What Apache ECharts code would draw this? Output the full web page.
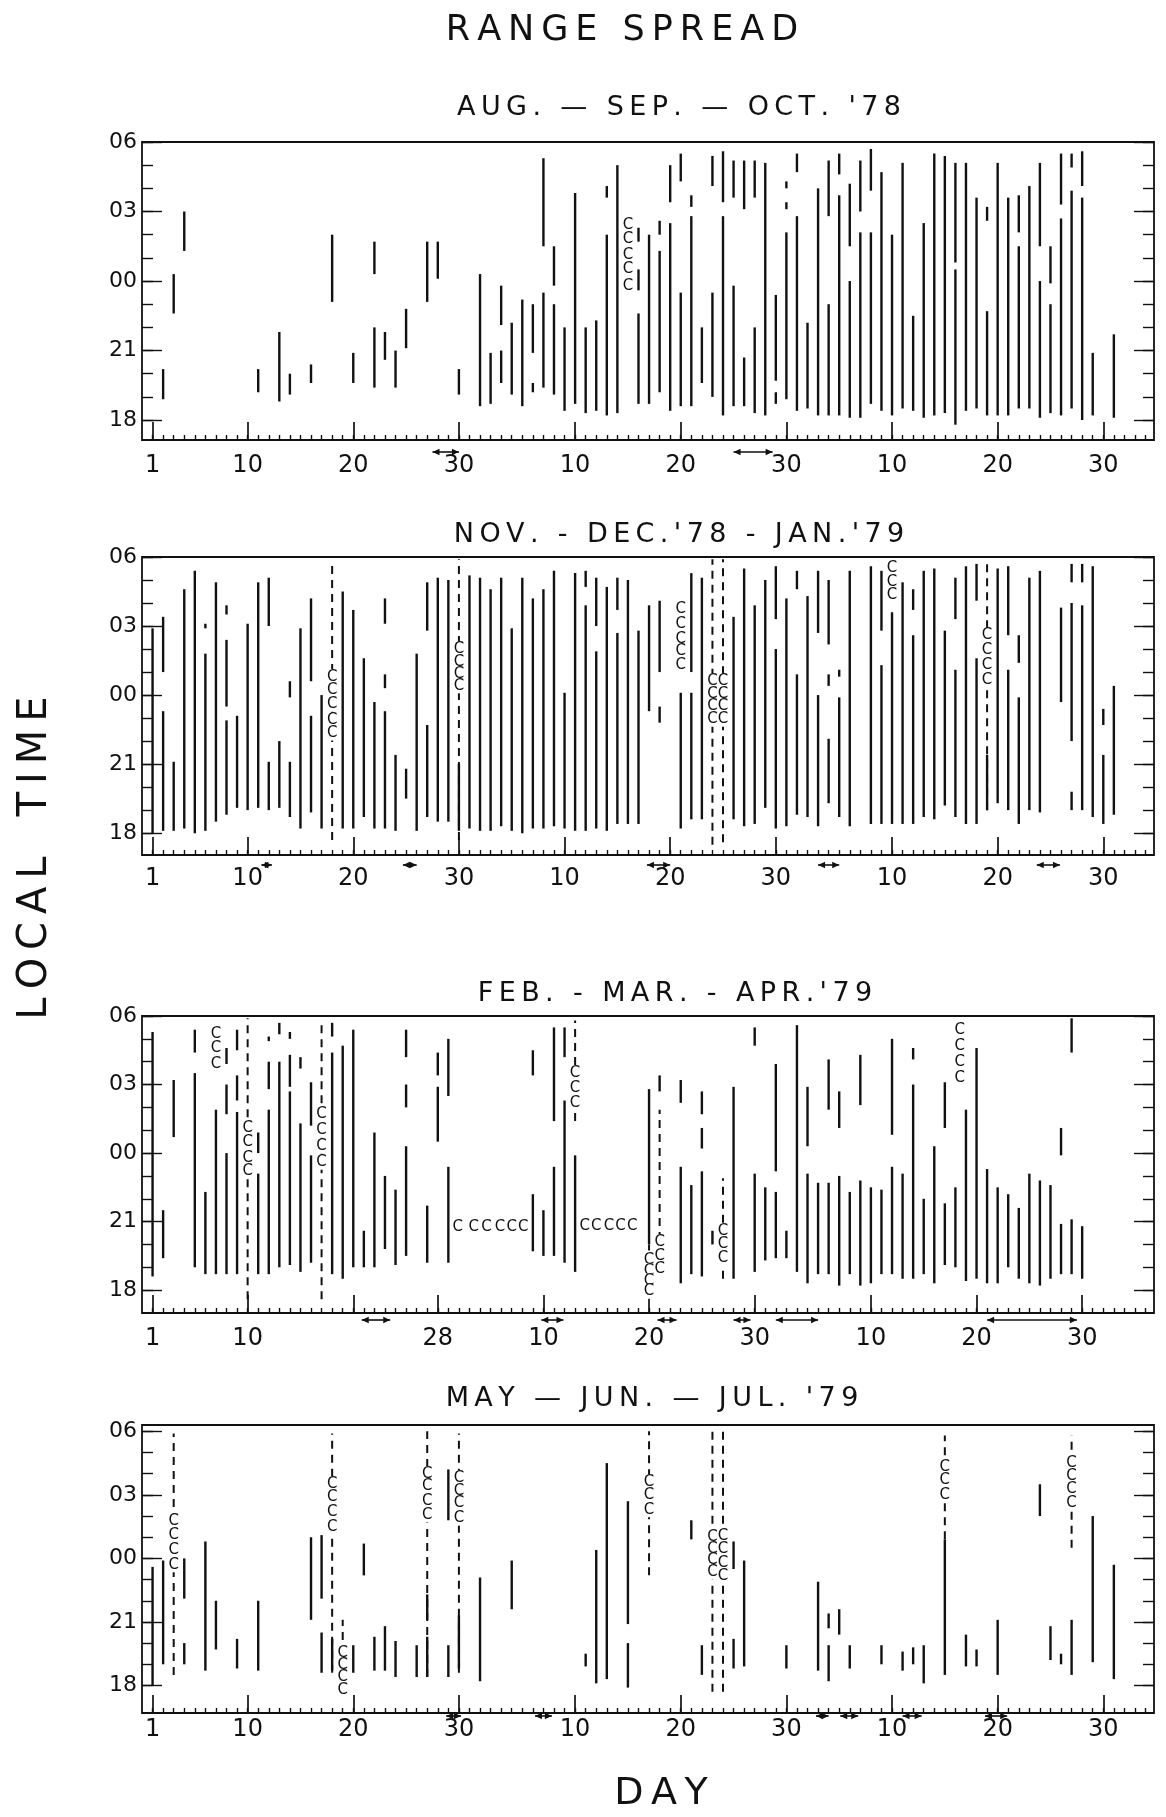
<!DOCTYPE html>
<html>
<head>
<meta charset="utf-8">
<title>Range spread</title>
<script src="https://cdn.jsdelivr.net/npm/echarts@6.0.0/dist/echarts.min.js"></script>
<style>
  html, body { margin: 0; padding: 0; background: #fff; }
  #chart { width: 1166px; height: 1817px; }
</style>
</head>
<body>
<div id="chart"></div>
<script>
// day = running day number from the 1st of the first month of the panel
// times = hours after 18 LT (0 -> 18, 6 -> 00, 12 -> 06)

const hourLabels = ['18', '21', '00', '03', '06'];
const hourLabelPos = [0, 3, 6, 9, 12];

const titles = ["AUG. — SEP. — OCT. '78", "NOV. - DEC.'78 - JAN.'79", "FEB. - MAR. - APR.'79", "MAY — JUN. — JUL. '79"];

const dayLabelPos1 = [1, 10, 20, 30, 41, 51, 61, 71, 81, 91];
const dayLabelPos2 = [1, 10, 20, 30, 40, 50, 60, 71, 81, 91];
const dayLabelPos3 = [1, 10, 28, 38, 48, 58, 69, 79, 89];
const dayLabelPos4 = [1, 10, 20, 30, 41, 51, 61, 71, 81, 91];
const dayLabelTxt1 = ['1', '10', '20', '30', '10', '20', '30', '10', '20', '30'];
const dayLabelTxt2 = ['1', '10', '20', '30', '10', '20', '30', '10', '20', '30'];
const dayLabelTxt3 = ['1', '10', '28', '10', '20', '30', '10', '20', '30'];
const dayLabelTxt4 = ['1', '10', '20', '30', '10', '20', '30', '10', '20', '30'];
const bigTick3 = [1, 10, 20, 28, 38, 48, 58, 69, 79, 89];

// solid range-spread bars [day, from, to]
const seg1 = [
  [2,0.9,2.2],[3,4.6,6.3],[4,7.3,9.0],[11,1.2,2.2],[13,0.8,3.8],[14,1.1,2.0],[16,1.6,2.4],[18,5.1,8.0],[20,1.6,2.9],
  [22,6.3,7.7],[22,1.4,4.0],[23,2.6,3.8],[24,1.4,3.0],[25,3.1,4.8],[27,5.1,7.7],[28,6.1,7.7],[30,1.1,2.2],
  [32,0.6,6.3],[33,0.7,2.9],[34,4.1,5.8],[34,1.6,3.0],[35,1.1,4.2],[36,0.6,5.2],[37,2.9,5.0],[37,1.2,1.6],
  [38,7.5,11.3],[38,1.4,5.5],[39,5.8,7.5],[39,1.1,5.0],[40,0.4,4.0],[41,0.7,9.8],[42,0.3,4.0],[43,0.4,4.3],
  [44,9.6,10.1],[44,0.2,8.0],[45,0.3,11.0],[47,7.7,8.3],[47,5.6,6.5],[47,0.7,4.6],[48,0.7,8.0],[49,8.0,8.6],
  [49,1.2,7.3],[50,9.4,11.0],[50,0.4,8.5],[51,10.3,11.5],[51,0.6,5.5],[52,9.2,9.7],[52,0.6,8.8],[53,1.6,4.0],
  [54,10.1,11.4],[54,1.0,5.5],[55,9.4,11.6],[55,0.2,8.8],[56,9.6,11.2],[56,0.6,5.8],[57,9.1,11.2],[57,0.6,2.7],
  [58,9.6,11.2],[58,0.3,4.0],[59,0.2,11.1],[60,1.7,5.4],[60,0.7,1.2],[61,10.0,10.3],[61,9.1,9.4],[61,0.9,8.1],
  [62,10.7,11.5],[62,0.4,8.8],[63,0.5,4.2],[64,0.2,10.0],[65,8.8,11.2],[65,0.2,5.0],[66,10.6,11.5],[66,0.2,9.7],
  [67,7.5,10.2],[67,0.1,6.0],[68,9.0,11.2],[68,0.1,8.1],[69,9.9,11.7],[69,0.7,8.1],[70,0.4,10.7],[71,0.2,8.0],
  [72,0.5,11.1],[73,0.4,4.5],[74,0.1,8.5],[75,0.2,11.5],[76,0.3,11.4],[77,6.8,11.1],[77,-0.2,6.5],[78,0.4,11.1],
  [79,0.5,9.6],[80,8.6,9.2],[80,0.2,4.7],[81,0.2,11.1],[82,0.2,9.6],[83,8.1,9.7],[83,0.5,7.5],[84,0.5,10.1],
  [85,7.5,11.1],[85,0.1,6.0],[86,5.9,7.5],[86,0.3,5.0],[87,9.3,11.5],[87,0.2,8.7],[88,10.9,11.5],[88,0.5,9.9],
  [89,10.1,11.6],[89,0.0,9.6],[90,0.2,2.9],[92,0.1,3.7]
];
const seg2 = [
  [1,0,8.9],[2,7.0,9.4],[2,0.1,5.3],[3,0.1,3.1],[4,0.2,10.6],[5,0,11.4],[6,8.9,9.1],[6,0.1,7.8],[7,0.5,10.9],
  [8,9.5,9.9],[8,5.5,8.4],[8,0.8,4.9],[9,1.1,5.1],[10,1.0,9.1],[11,1.1,10.9],[12,9.0,11.1],[12,1.0,3.1],
  [13,1.1,4.0],[14,5.9,6.6],[14,0.7,3.1],[15,0.2,8.9],[16,6.6,10.2],[16,0.9,5.1],[17,0.2,6.0],[19,0.2,10.5],
  [20,0.2,9.7],[21,0.7,7.6],[22,0.2,5.7],[23,9.1,10.2],[23,6.3,6.9],[23,0.2,5.3],[24,0.1,3.4],[25,1.5,2.8],
  [26,0.1,7.8],[27,8.8,10.9],[27,0.7,4.7],[28,0.5,11.1],[29,0.5,11.0],[30,0.1,3.0],[31,0.2,11.2],
  [32,0.1,11.1],[33,0.1,10.6],[34,0.3,11.1],[35,0.1,8.9],[36,0.0,11.1],[37,0.2,10.2],[38,0.2,10.6],[39,0.3,11.4],
  [40,0.2,6.1],[41,0.1,11.3],[42,10.7,11.4],[42,0.1,9.9],[43,9.0,11.1],[43,0.2,7.9],[44,0.1,10.7],[45,9.7,11.1],
  [45,0.4,8.7],[46,0.4,11.0],[47,0.4,8.8],[48,5.3,9.9],[49,7.0,10.1],[49,4.8,5.5],[51,0.2,6.1],[52,7.0,11.3],
  [52,0.6,6.1],[53,0.6,11.1],[56,0.6,9.4],[57,0.3,11.5],[58,0.4,9.9],[59,1.1,11.0],[60,9.3,11.6],[60,0.2,8.0],
  [61,0.3,10.2],[62,10.6,11.4],[62,0.8,6.9],[63,0.7,10.3],[64,8.7,11.4],[64,0.3,6.0],[65,8.2,11.0],[65,6.4,6.9],
  [65,1.3,4.1],[66,6.8,7.1],[66,0.7,5.9],[67,0.3,11.4],[69,0.4,11.6],[70,8.8,11.4],[70,0.4,7.3],[71,0.4,9.6],
  [72,0.4,10.9],[73,9.7,10.6],[73,0.4,8.6],[74,0.7,11.4],[75,0.6,11.5],[76,1.2,8.8],[77,9.3,11.1],[77,0.7,7.1],
  [78,0.4,11.6],[79,10.1,11.7],[79,0.4,7.6],[80,1.0,3.4],[81,1.3,11.5],[82,8.6,11.6],[82,1.0,7.1],[83,7.4,8.6],
  [83,0.4,5.9],[84,1.0,11.1],[85,0.9,11.4],[87,5.7,9.8],[88,10.9,11.7],[88,4.0,10.0],[88,1.0,1.8],[89,10.9,11.7],
  [89,1.0,9.9],[90,0.7,11.6],[91,4.7,5.4],[91,0.4,3.4],[92,0.8,6.4]
];
const seg3 = [
  [1,0.6,11.3],[2,1.4,3.5],[3,6.7,9.2],[5,10.4,11.4],[5,1.0,9.5],[6,0.7,4.3],[7,0.7,7.9],[8,9.9,10.6],[8,7.7,9.0],
  [8,0.7,6.0],[9,10.5,11.4],[9,8.3,9.4],[9,0.7,7.8],[11,6.0,6.9],[11,0.7,5.1],[12,10.9,11.1],[12,8.8,10.0],
  [12,0.7,7.9],[13,11.2,11.7],[13,1.0,10.0],[14,11.0,11.3],[14,8.9,10.3],[14,1.1,8.7],[15,9.7,10.2],[15,0.8,7.3],
  [16,7.2,9.1],[16,1.2,5.9],[18,11.1,11.7],[18,0.7,10.4],[19,0.5,10.7],[20,1.0,11.4],[21,1.0,2.6],[22,1.0,6.9],
  [23,1.8,5.0],[24,1.1,4.4],[25,10.2,11.4],[25,8.0,9.0],[25,1.5,6.3],[27,1.2,3.7],[28,9.4,10.4],[28,6.5,8.9],
  [29,8.5,11.0],[29,1.2,5.4],[37,9.4,10.5],[37,1.7,4.2],[38,1.5,3.5],[39,7.4,11.5],[39,1.5,5.4],[40,10.2,11.5],
  [40,1.2,8.3],[41,0.8,5.9],[48,2.0,8.8],[49,8.7,9.4],[51,8.2,9.2],[51,0.3,5.4],[52,0.7,4.6],[53,7.7,8.7],
  [53,6.2,7.1],[53,0.6,5.2],[54,2.0,2.6],[56,0.5,8.9],[58,10.7,11.5],[58,0.8,5.1],[59,1.3,4.5],[60,5.2,9.9],
  [60,1.4,4.3],[61,1.4,2.6],[62,0.8,11.6],[63,6.3,8.9],[63,0.3,5.1],[64,0.7,4.7],[65,7.9,10.1],[65,0.7,4.7],
  [66,7.1,8.7],[66,0.2,5.0],[67,0.7,4.3],[68,8.1,10.3],[68,0.2,4.8],[69,0.3,4.5],[70,0.7,4.4],[71,6.8,11.0],
  [71,0.7,5.4],[72,0.5,5.1],[73,10.1,10.6],[73,0.5,9.0],[74,0.7,4.0],[75,0.3,6.3],[76,7.1,9.1],[76,1.1,3.8],
  [77,1.0,4.5],[78,0.4,7.9],[79,0.5,10.6],[80,0.3,5.3],[81,0.3,4.5],[82,1.0,4.2],[83,0.5,3.6],[84,0.3,5.1],
  [85,0.2,4.8],[86,0.5,4.6],[87,5.9,7.1],[87,0.7,2.9],[88,10.4,11.9],[88,0.7,3.1],[89,0.5,2.8]
];
const seg4 = [
  [1,0,5.6],[2,1.0,5.9],[4,4.1,6.0],[4,1.0,2.0],[6,0.7,6.8],[7,1.7,4.0],[9,0.8,2.2],[11,0.7,4.0],[16,3.1,7.0],
  [17,4.1,7.1],[17,0.6,2.5],[18,0.7,2.2],[20,0.6,1.9],[21,5.2,6.7],[22,0.7,2.3],[23,0.7,2.8],[24,0.4,2.1],
  [26,0.4,1.9],[27,3.1,4.3],[27,0.4,2.3],[29,7.8,10.2],[29,0.4,1.9],[30,0.8,3.3],[32,0.2,5.1],[35,3.6,5.9],
  [42,0.9,1.5],[43,0.1,6.4],[44,0.3,10.5],[46,2.9,8.7],[46,-0.1,2.0],[52,6.9,7.8],[53,0.5,1.9],[56,5.5,6.8],
  [56,0.8,2.2],[57,0.9,5.9],[61,0.8,1.9],[64,0.7,4.9],[65,2.7,3.4],[65,0.2,1.9],[66,2.4,3.6],[67,0.8,1.9],
  [70,1.0,1.9],[72,0.7,1.6],[73,1.0,1.8],[74,0.1,1.9],[76,0.5,6.9],[78,0.9,2.4],[79,0.9,1.7],[81,0.5,3.1],
  [85,8.0,9.5],[86,1.2,2.8],[87,1.0,1.5],[88,0.5,3.1],[90,1.1,8.0],[92,0.3,5.7]
];

// dashed bars [day, from, to]
const dash1 = [];
const dash2 = [[18,-0.3,11.7],[30,-0.3,11.9],[54,-0.5,11.9],[55,-0.4,11.9],[80,1.0,11.8]];
const dash3 = [[10,-0.4,11.9],[17,-0.4,11.8],[41,7.4,11.8],[48,-0.1,2.0],[49,2.2,7.9],[55,0.5,4.9]];
const dash4 = [[3,0.5,11.9],[18,0.6,11.9],[19,-0.5,3.1],[27,0.4,12.0],[30,0.6,11.9],[48,5.2,12.0],
  [54,-0.3,12.0],[55,-0.3,12.0],[76,6.9,11.8],[88,6.5,11.8]];

// "c" marks [day, time]
const cMark1 = [[46,8.4],[46,7.8],[46,7.1],[46,6.5],[46,5.8]];
const cMark2 = [[18,6.8],[18,6.2],[18,5.6],[18,4.9],[18,4.35],[30,8.0],[30,7.45],[30,6.9],[30,6.4],
  [51,9.75],[51,9.1],[51,8.45],[51,7.9],[51,7.3],[54,6.6],[54,6.05],[54,5.5],[54,4.95],[55,6.6],[55,6.05],
  [55,5.5],[55,4.95],[71,11.5],[71,10.9],[71,10.35],[80,8.6],[80,7.95],[80,7.3],[80,6.65]];
const cMark3 = [[7,11.2],[7,10.6],[7,9.9],[10,7.1],[10,6.5],[10,5.8],[10,5.2],[17,7.7],[17,7.0],[17,6.3],[17,5.6],
  [29.9,2.75],[31.4,2.75],[32.6,2.75],[33.9,2.75],[35.0,2.75],[36.1,2.75],[41,9.5],[41,8.85],[41,8.2],
  [41.9,2.8],[43.0,2.8],[44.2,2.8],[45.3,2.8],[46.4,2.8],[48,1.3],[48,0.85],[48,0.4],[48,-0.05],
  [49,2.1],[49,1.5],[49,0.9],[55,2.6],[55,2.0],[55,1.4],[77.4,11.4],[77.4,10.7],[77.4,10.0],[77.4,9.3]];
const cMark4 = [[3,7.75],[3,7.1],[3,6.4],[3,5.7],[18,9.5],[18,8.9],[18,8.2],[18,7.5],[19,1.55],[19,0.95],
  [19,0.4],[19,-0.2],[27,10.0],[27,9.4],[27,8.7],[27,8.05],[30,9.8],[30,9.2],[30,8.6],[30,7.9],[48,9.6],
  [48,9.0],[48,8.3],[54,7.0],[54,6.45],[54,5.9],[54,5.35],[55,7.05],[55,6.45],[55,5.8],[55,5.15],
  [76,10.3],[76,9.7],[76,9.0],[88,10.5],[88,9.9],[88,9.25],[88,8.6]];

// double arrows under the axis [from day, to day]
const arrows1 = [[27.5,30],[56,59.7]];
const arrows2 = [[11.3,12.3],[24.7,26],[47.8,50],[64,66],[84.7,86.9]];
const arrows3 = [[20.8,23.5],[37.8,39.9],[48.8,50.6],[56,57.6],[60,64],[80,88.5]];
const arrows4 = [[28.8,30.2],[37.2,38.8],[63.8,65],[66.1,67.8],[72,73.8],[79.8,81.9]];

const INK = '#111';
const FONT = 'DejaVu Sans';
const X_MAX = 95.8;
const dayTicks = Array.from({ length: 95 }, (_, i) => i + 1);
const hourTicks = Array.from({ length: 13 }, (_, i) => i);

const panels = [
  { top: 142, height: 298, yMin: -0.86, yMax: 12, seg: seg1, dash: dash1, cs: cMark1, arrows: arrows1, arrowOff: 12, labMargin: 14,
    labPos: dayLabelPos1, labTxt: dayLabelTxt1, big: dayLabelPos1, titleX: 679, titleY: 108 },
  { top: 557, height: 298, yMin: -0.95, yMax: 12, seg: seg2, dash: dash2, cs: cMark2, arrows: arrows2, arrowOff: 10, labMargin: 12,
    labPos: dayLabelPos2, labTxt: dayLabelTxt2, big: dayLabelPos2, titleX: 679, titleY: 535 },
  { top: 1016, height: 297, yMin: -1.0, yMax: 12, seg: seg3, dash: dash3, cs: cMark3, arrows: arrows3, arrowOff: 7, labMargin: 14,
    labPos: dayLabelPos3, labTxt: dayLabelTxt3, big: bigTick3, titleX: 675, titleY: 994 },
  { top: 1425, height: 288, yMin: -1.3, yMax: 12.3, seg: seg4, dash: dash4, cs: cMark4, arrows: arrows4, arrowOff: 3, labMargin: 5,
    labPos: dayLabelPos4, labTxt: dayLabelTxt4, big: dayLabelPos4, titleX: 652, titleY: 1399 }
];

function spread(s) { return s.split('').join('\u2009'); }

function barItem(width, dash) {
  return function (params, api) {
    const a = api.coord([api.value(0), api.value(1)]);
    const b = api.coord([api.value(0), api.value(2)]);
    return { type: 'line', shape: { x1: a[0], y1: a[1], x2: b[0], y2: b[1] },
      style: { stroke: INK, lineWidth: width, lineDash: dash || null } };
  };
}
function cItem(params, api) {
  const p = api.coord([api.value(0), api.value(1)]);
  return { type: 'text', x: p[0], y: p[1], z2: 5,
    style: { text: 'C', fontSize: 15, fontFamily: FONT, fill: INK, align: 'center', verticalAlign: 'middle', backgroundColor: '#fff' } };
}
function arrowItem(yMin, off) {
  return function (params, api) {
    const a = api.coord([api.value(0), yMin]);
    const b = api.coord([api.value(1), yMin]);
    const y = a[1] + off, h = 3.2, L = 7;
    return { type: 'group', children: [
      { type: 'line', shape: { x1: a[0], y1: y, x2: b[0], y2: y }, style: { stroke: INK, lineWidth: 1.6 } },
      { type: 'polygon', shape: { points: [[a[0], y], [a[0] + L, y - h], [a[0] + L, y + h]] }, style: { fill: INK } },
      { type: 'polygon', shape: { points: [[b[0], y], [b[0] - L, y - h], [b[0] - L, y + h]] }, style: { fill: INK } }
    ] };
  };
}

const grid = [], xAxis = [], yAxis = [], series = [], graphic = [];
const tickStyle = { color: INK, width: 1.4 };

panels.forEach(function (p, i) {
  grid.push({ left: 142, right: 12, top: p.top, height: p.height, show: true, borderColor: INK, borderWidth: 1.8 });
  const xBase = { gridIndex: i, type: 'value', min: 0, max: X_MAX, position: 'bottom',
    axisLine: { show: false, onZero: false }, splitLine: { show: false } };
  xAxis.push(Object.assign({}, xBase, {
    axisTick: { show: true, inside: true, length: 5, customValues: dayTicks, lineStyle: tickStyle },
    axisLabel: { show: false } }));
  xAxis.push(Object.assign({}, xBase, {
    axisTick: { show: true, inside: true, length: 18, customValues: p.big, lineStyle: { color: INK, width: 1.7 } },
    axisLabel: { show: true, customValues: p.labPos, margin: p.labMargin, fontSize: 24, fontFamily: FONT, color: INK,
      formatter: function (v) { const k = p.labPos.indexOf(Math.round(v)); return k < 0 ? '' : p.labTxt[k]; } } }));

  const yBase = { gridIndex: i, type: 'value', min: p.yMin, max: p.yMax,
    axisLine: { show: false, onZero: false }, splitLine: { show: false } };
  yAxis.push(Object.assign({}, yBase, { position: 'left',
    axisTick: { show: true, inside: true, length: 11, customValues: hourTicks, lineStyle: tickStyle },
    axisLabel: { show: true, customValues: hourLabelPos, margin: 5, fontSize: 22, fontFamily: FONT, color: INK,
      formatter: function (v) { return hourLabels[Math.round(v / 3)]; } } }));
  yAxis.push(Object.assign({}, yBase, { position: 'left',
    axisTick: { show: true, inside: true, length: 20, customValues: hourLabelPos, lineStyle: tickStyle },
    axisLabel: { show: false } }));
  yAxis.push(Object.assign({}, yBase, { position: 'right',
    axisTick: { show: true, inside: true, length: 11, customValues: hourTicks, lineStyle: tickStyle },
    axisLabel: { show: false } }));
  yAxis.push(Object.assign({}, yBase, { position: 'right',
    axisTick: { show: true, inside: true, length: 20, customValues: hourLabelPos, lineStyle: tickStyle },
    axisLabel: { show: false } }));

  const ax = { xAxisIndex: 2 * i, yAxisIndex: 4 * i };
  series.push(Object.assign({ type: 'custom', name: 'bars' + i, renderItem: barItem(2.4), data: p.seg, encode: { x: 0, y: [1, 2] }, silent: true }, ax));
  series.push(Object.assign({ type: 'custom', name: 'dashed' + i, renderItem: barItem(2, [8, 6]), data: p.dash, encode: { x: 0, y: [1, 2] }, silent: true }, ax));
  series.push(Object.assign({ type: 'custom', name: 'c' + i, renderItem: cItem, data: p.cs, encode: { x: 0, y: 1 }, z: 4, silent: true }, ax));
  series.push(Object.assign({ type: 'custom', name: 'arrows' + i, renderItem: arrowItem(p.yMin, p.arrowOff), data: p.arrows,
    encode: { x: [0, 1] }, clip: false, silent: true }, ax));

  graphic.push({ type: 'text', x: p.titleX, y: p.titleY,
    style: { text: spread(titles[i]), fontSize: 27, fontFamily: FONT, fill: INK, align: 'center', verticalAlign: 'middle' } });
});

graphic.push({ type: 'text', x: 622, y: 31,
  style: { text: spread('RANGE SPREAD'), fontSize: 35, fontFamily: FONT, fill: INK, align: 'center', verticalAlign: 'middle' } });
graphic.push({ type: 'text', x: 36, y: 858, rotation: Math.PI / 2,
  style: { text: spread('LOCAL') + '\u2003' + spread('TIME'), fontSize: 40, fontFamily: FONT, fill: INK, align: 'center', verticalAlign: 'middle' } });
graphic.push({ type: 'text', x: 661, y: 1794,
  style: { text: spread('DAY'), fontSize: 38, fontFamily: FONT, fill: INK, align: 'center', verticalAlign: 'middle' } });

const chart = echarts.init(document.getElementById('chart'));
chart.setOption({
  backgroundColor: '#fff',
  animation: false,
  grid: grid,
  xAxis: xAxis,
  yAxis: yAxis,
  series: series,
  graphic: graphic
});
</script>
</body>
</html>
